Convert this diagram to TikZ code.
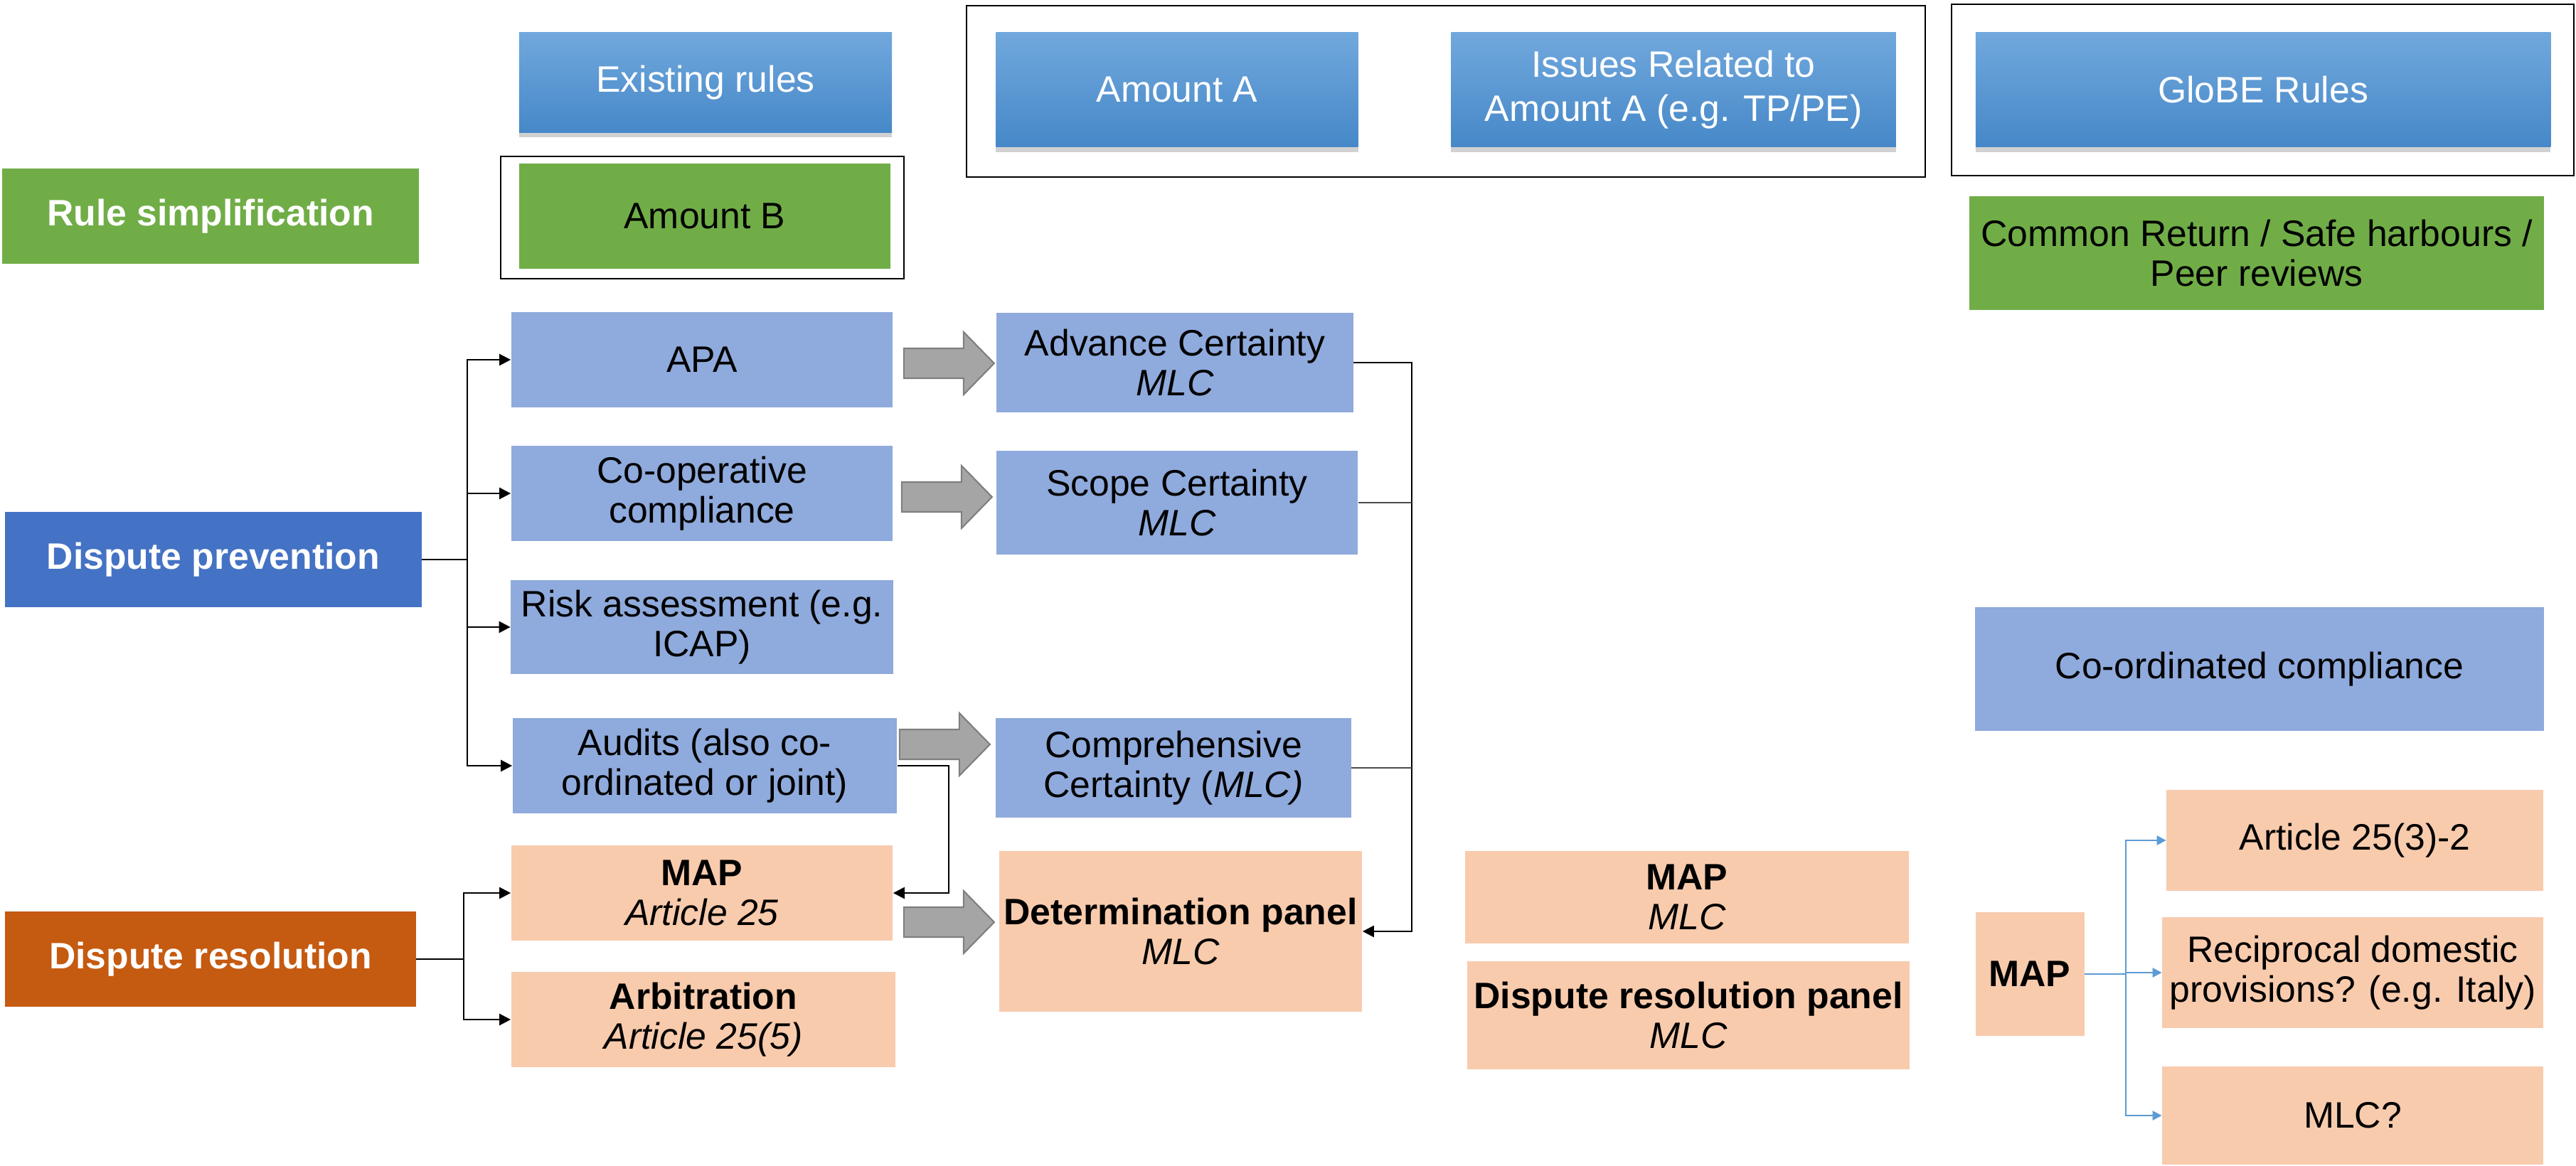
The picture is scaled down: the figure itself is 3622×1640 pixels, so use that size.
\documentclass[tikz,border=0pt]{standalone}
\usepackage{fontspec}
\setmainfont{Liberation Sans}
\usetikzlibrary{arrows.meta}
\usetikzlibrary{shadows}

\definecolor{gradtop}{HTML}{71A8DD}
\definecolor{gradbot}{HTML}{4688C8}
\definecolor{lightblue}{HTML}{8FAADC}
\definecolor{grassgreen}{HTML}{70AD47}
\definecolor{darkblue}{HTML}{4472C4}
\definecolor{burnt}{HTML}{C55A11}
\definecolor{peach}{HTML}{F8CBAD}
\definecolor{arrowfill}{HTML}{A5A5A5}
\definecolor{arrowline}{HTML}{7F7F7F}
\definecolor{mapblue}{HTML}{5B9BD5}

\tikzset{
  box/.style={rectangle, inner sep=1pt, align=center, font=\fontsize{14.7}{16}\selectfont},
  topbox/.style={box, top color=gradtop, bottom color=gradbot, text=white,
    drop shadow={shadow xshift=0cm, shadow yshift=-0.07cm, opacity=0.3, fill=black!60}},
  greenbox/.style={box, fill=grassgreen},
  bluebox/.style={box, fill=lightblue},
  peachbox/.style={box, fill=peach},
  headbox/.style={box, text=white, font=\fontsize{14.7}{16}\selectfont\bfseries},
  groupframe/.style={draw=black, line width=0.8pt},
  link/.style={line width=0.7pt},
  conn/.style={link, -{Triangle[length=0.16cm,width=0.16cm]}},
  thinlink/.style={line width=0.35pt, draw=black!70},
  bluelink/.style={line width=0.7pt, draw=mapblue},
  blueconn/.style={bluelink, -{Triangle[length=0.13cm,width=0.13cm]}},
  fatarrow/.pic={\draw[fill=arrowfill, draw=arrowline, line width=0.6pt]
    (0,-21) -- (84,-21) -- (84,-44) -- (127,0) -- (84,44) -- (84,21) -- (0,21) -- cycle;}
}

\begin{document}
\begin{tikzpicture}[x=0.01cm, y=-0.01cm]
  \useasboundingbox (0,0) rectangle (3622,1640);

  % top row
  \node[topbox, minimum width=5.24cm, minimum height=1.40cm] (existing) at (992,116) {Existing rules};
  \node[topbox, minimum width=5.09cm, minimum height=1.61cm] (amountA) at (1655,126) {Amount A};
  \node[topbox, minimum width=6.25cm, minimum height=1.61cm, font=\fontsize{14.7}{17.7}\selectfont] (issues) at (2353,126) {Issues Related to\\Amount A (e.g. TP/PE)};
  \node[topbox, minimum width=8.08cm, minimum height=1.61cm] (globe) at (3182,126) {GloBE Rules};
  \draw[groupframe] (1359,8) rectangle (2707,249);
  \draw[groupframe] (2744,6) rectangle (3619,247);

  % rule simplification
  \node[headbox, fill=grassgreen, minimum width=5.85cm, minimum height=1.34cm] (rulesimp) at (296,304) {Rule simplification};
  \node[greenbox, minimum width=5.22cm, minimum height=1.48cm] (amountB) at (991,304) {Amount B};
  \draw[groupframe] (704,220) rectangle (1271,392);
  \node[greenbox, minimum width=8.07cm, minimum height=1.59cm] (common) at (3173,356) {Common Return / Safe harbours /\\Peer reviews};

  % dispute prevention
  \node[headbox, fill=darkblue, minimum width=5.85cm, minimum height=1.33cm] (disprev) at (300,787) {Dispute prevention};
  \node[bluebox, minimum width=5.36cm, minimum height=1.33cm] (apa) at (987,506) {APA};
  \node[bluebox, minimum width=5.36cm, minimum height=1.34cm] (coop) at (987,694) {Co-operative\\compliance};
  \node[bluebox, minimum width=5.37cm, minimum height=1.32cm] (risk) at (987,882) {Risk assessment (e.g.\\ICAP)};
  \node[bluebox, minimum width=5.40cm, minimum height=1.34cm] (audits) at (991,1077) {Audits (also co-\\ordinated or joint)};
  \node[bluebox, minimum width=5.01cm, minimum height=1.40cm] (advance) at (1652,510) {Advance Certainty\\\textit{MLC}};
  \node[bluebox, minimum width=5.08cm, minimum height=1.46cm] (scope) at (1655,707) {Scope Certainty\\\textit{MLC}};
  \node[bluebox, minimum width=4.99cm, minimum height=1.40cm] (compr) at (1650,1080) {Comprehensive\\Certainty (\textit{MLC)}};
  \node[bluebox, minimum width=7.99cm, minimum height=1.73cm] (coord) at (3177,941) {Co-ordinated compliance};

  % dispute resolution
  \node[headbox, fill=burnt, minimum width=5.77cm, minimum height=1.33cm] (disres) at (296,1349) {Dispute resolution};
  \node[peachbox, minimum width=5.36cm, minimum height=1.34cm] (mapart) at (987,1256) {\textbf{MAP}\\\textit{Article 25}};
  \node[peachbox, minimum width=5.40cm, minimum height=1.33cm] (arbit) at (989,1434) {\textbf{Arbitration}\\\textit{Article 25(5)}};
  \node[peachbox, minimum width=5.10cm, minimum height=2.25cm] (determ) at (1660,1310) {\textbf{Determination panel}\\\textit{MLC}};
  \node[peachbox, minimum width=6.24cm, minimum height=1.29cm] (mapmlc) at (2372,1262) {\textbf{MAP}\\\textit{MLC}};
  \node[peachbox, minimum width=6.22cm, minimum height=1.51cm] (drpanel) at (2374,1428) {\textbf{Dispute resolution panel}\\\textit{MLC}};
  \node[peachbox, minimum width=1.53cm, minimum height=1.74cm] (mapsmall) at (2854,1370) {\textbf{MAP}};
  \node[peachbox, minimum width=5.29cm, minimum height=1.41cm] (art253) at (3311,1182) {Article 25(3)-2};
  \node[peachbox, minimum width=5.35cm, minimum height=1.55cm] (recip) at (3308,1368) {Reciprocal domestic\\provisions? (e.g. Italy)};
  \node[peachbox, minimum width=5.35cm, minimum height=1.38cm] (mlcq) at (3308,1569) {MLC?};

  % grey arrows
  \pic at ([xshift=0.15cm, yshift=-0.05cm]apa.east) {fatarrow};
  \pic at ([xshift=0.12cm, yshift=-0.05cm]coop.east) {fatarrow};
  \pic at ([xshift=0.03cm, yshift=0.30cm]audits.east) {fatarrow};
  \pic at ([xshift=0.15cm, yshift=-0.41cm]mapart.east) {fatarrow};

  % branches
  \coordinate (dpfork) at (657,787);
  \draw[link] (disprev.east) -- (dpfork);
  \foreach \n in {apa,coop,risk,audits}
    \draw[conn] (dpfork) |- (\n.west);

  \coordinate (drfork) at (652,1349);
  \draw[link] (disres.east) -- (drfork);
  \foreach \n in {mapart,arbit}
    \draw[conn] (drfork) |- (\n.west);

  \draw[conn] (audits.east) -- ++(72,0) |- (mapart.east);

  \coordinate (merge) at (1985,1310);
  \draw[conn] (advance.east) -| (merge) -- (determ.east);
  \draw[thinlink] (scope.east) -- (scope.east -| merge);
  \draw[thinlink] (compr.east) -- (compr.east -| merge);

  \coordinate (mapfork) at (2989,1370);
  \draw[bluelink] (mapsmall.east) -- (mapfork);
  \foreach \n in {art253,recip,mlcq}
    \draw[blueconn] (mapfork) |- (\n.west);
\end{tikzpicture}
\end{document}
